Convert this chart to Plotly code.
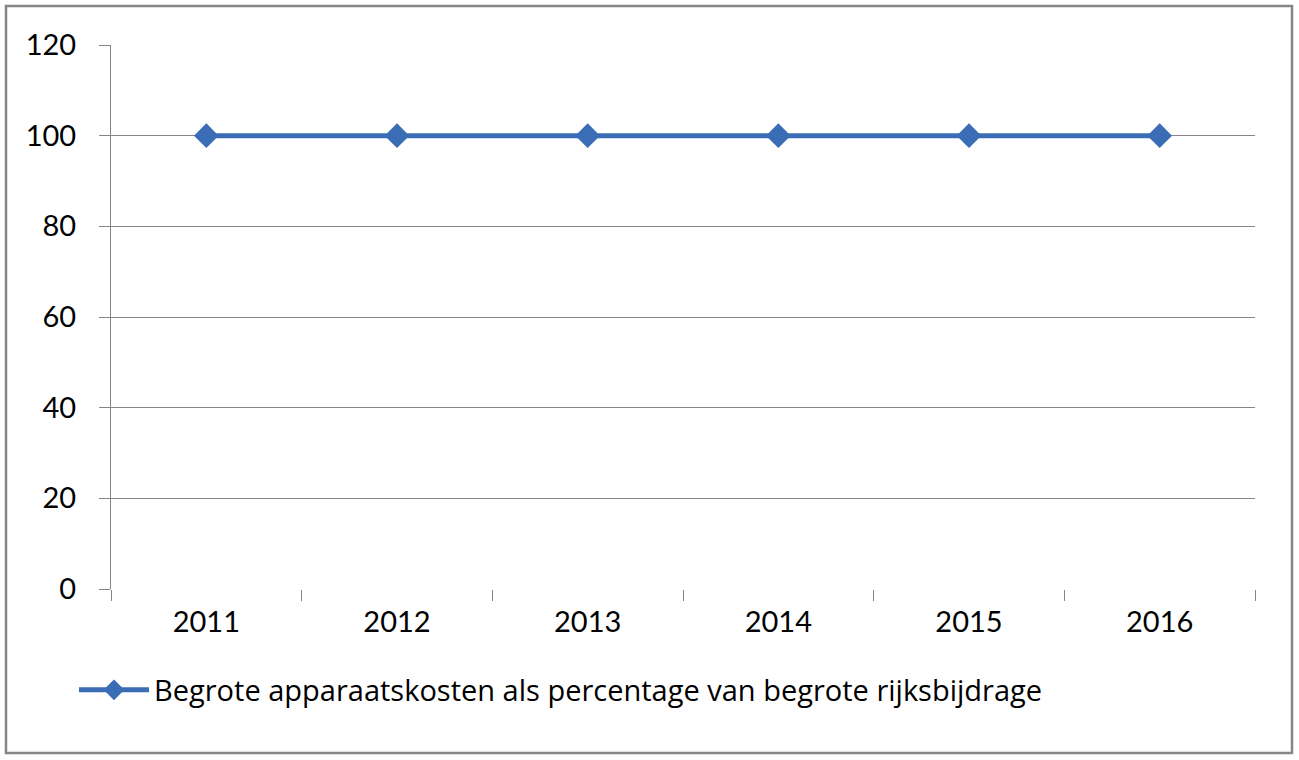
import plotly.graph_objects as go

years = ["2011", "2012", "2013", "2014", "2015", "2016"]
values = [100, 100, 100, 100, 100, 100]
series_name = "Begrote apparaatskosten als percentage van begrote rijksbijdrage"
y_ticks = [0, 20, 40, 60, 80, 100, 120]

W, H = 1299, 760
L, R, T, B = 111, 44, 45, 171
pw, ph = W - L - R, H - T - B

def px_x(p):
    return (p - L) / pw

def px_y(p):
    return (H - B - p) / ph

blue = "#3A6DB5"
grey = "#868686"
font = "Lato, 'Open Sans', sans-serif"

fig = go.Figure()
fig.add_trace(go.Scatter(
    x=list(range(len(years))), y=values, name=series_name,
    mode="lines+markers",
    line=dict(color=blue, width=5),
    marker=dict(symbol="diamond", size=19, color=blue),
    showlegend=True,
))

fig.update_layout(
    width=W, height=H,
    margin=dict(l=L, r=R, t=T, b=B),
    paper_bgcolor="white", plot_bgcolor="white",
    font=dict(family=font, size=29, color="black"),
    xaxis=dict(
        range=[-0.5, len(years) - 0.5],
        tickmode="array", tickvals=list(range(len(years))), ticktext=years,
        ticks="", showgrid=False, zeroline=False,
        showline=False,
        minor=dict(tickmode="array", tickvals=[i - 0.5 for i in range(len(years) + 1)],
                   ticks="outside", ticklen=11, tickcolor=grey, tickwidth=1, showgrid=False),
        ticklabelstandoff=13,
        fixedrange=True,
    ),
    yaxis=dict(
        range=[0, 120], tickvals=y_ticks,
        showgrid=True, gridcolor=grey, gridwidth=1,
        zeroline=False,
        showline=True, linecolor=grey, linewidth=1,
        ticks="outside", ticklen=11, tickcolor=grey,
        ticklabelstandoff=17,
        fixedrange=True,
    ),
    legend=dict(
        orientation="h",
        x=px_x(74), xanchor="left",
        y=px_y(690), yanchor="middle",
        font=dict(family="'Open Sans', Lato, sans-serif", size=29, color="black"),
        bgcolor="rgba(0,0,0,0)",
        itemwidth=70,
    ),
    shapes=[dict(
        type="rect", xref="paper", yref="paper",
        x0=px_x(6), x1=px_x(1292), y0=px_y(753), y1=px_y(6),
        line=dict(color=grey, width=2.5), fillcolor="rgba(0,0,0,0)", layer="below",
    )],
)

fig.write_html("out.html")
